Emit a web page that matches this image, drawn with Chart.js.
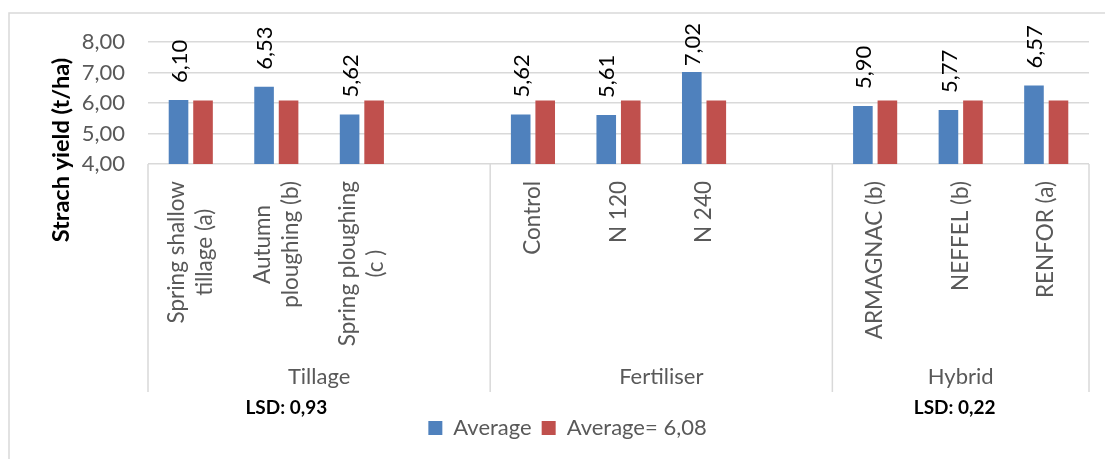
<!DOCTYPE html>
<html>
<head>
<meta charset="utf-8">
<script src="https://cdn.jsdelivr.net/npm/chart.js@4.4.1/dist/chart.umd.min.js"></script>
<style>
  body { margin: 0; background: #fff; }
  canvas { display: block; }
</style>
</head>
<body>
<canvas id="yieldChart" width="1105" height="459"></canvas>
<script>
// Data
const categories = [
    ['Spring shallow', 'tillage (a)'], ['Autumn', 'ploughing (b)'], ['Spring ploughing', '(c )'], '',
    'Control', 'N 120', 'N 240', '',
    'ARMAGNAC (b)', 'NEFFEL (b)', 'RENFOR (a)'
];
const groups = ['Tillage', 'Fertiliser', 'Hybrid'];
const groupSizes = [4, 4, 3];
const averageValues = [6.10, 6.53, 5.62, null, 5.62, 5.61, 7.02, null, 5.90, 5.77, 6.57];
const overallAverage = [6.08, 6.08, 6.08, null, 6.08, 6.08, 6.08, null, 6.08, 6.08, 6.08];
const seriesNames = ['Average', 'Average= 6,08'];
const yTicks = [4, 5, 6, 7, 8];
const yTitle = 'Strach yield (t/ha)';
const lsdNotes = ['LSD: 0,93', 'LSD: 0,22'];

const FONT = 'Lato, "Open Sans", sans-serif';
const GRAY = '#595959';
const LINE = '#D9D9D9';

function fmt(v) {
    return v.toFixed(2).replace('.', ',');
}

// draws the Excel-like extras: border, axis title, value labels, multi-level category axis
const extrasPlugin = {
    id: 'extras',
    beforeDraw(chart) {
        const ctx = chart.ctx;
        ctx.save();
        ctx.strokeStyle = LINE;
        ctx.lineWidth = 1.5;
        ctx.beginPath();
        ctx.moveTo(9, chart.height);
        ctx.lineTo(9, 13);
        ctx.lineTo(chart.width, 13);
        ctx.stroke();
        ctx.restore();
    },
    afterDraw(chart) {
        const ctx = chart.ctx;
        const x = chart.scales.x;
        const area = chart.chartArea;
        const half = (x.getPixelForValue(1) - x.getPixelForValue(0)) / 2;
        const axisBottom = 392;

        ctx.save();

        // y axis title
        ctx.save();
        ctx.translate(61, 150);
        ctx.rotate(-Math.PI / 2);
        ctx.font = 'bold 23.5px ' + FONT;
        ctx.fillStyle = '#000';
        ctx.textAlign = 'center';
        ctx.textBaseline = 'middle';
        ctx.fillText(yTitle, 0, 0);
        ctx.restore();

        // value labels on the blue bars
        ctx.font = '22px ' + FONT;
        ctx.fillStyle = '#000';
        chart.getDatasetMeta(0).data.forEach((bar, i) => {
            const v = averageValues[i];
            if (v == null) return;
            const txt = fmt(v);
            const w = ctx.measureText(txt).width;
            let bottom = bar.y - 17;
            if (bottom - w < 23) bottom = 23 + w;
            ctx.save();
            ctx.translate(bar.x + 1, bottom);
            ctx.rotate(-Math.PI / 2);
            ctx.textAlign = 'left';
            ctx.textBaseline = 'middle';
            ctx.fillText(txt, 0, 0);
            ctx.restore();
        });

        // group separators
        ctx.strokeStyle = LINE;
        ctx.lineWidth = 1.5;
        let idx = 0;
        const bounds = [x.getPixelForValue(0) - half];
        groupSizes.forEach(n => {
            idx += n;
            bounds.push(x.getPixelForValue(idx - 1) + half);
        });
        bounds.forEach(bx => {
            ctx.beginPath();
            ctx.moveTo(bx, area.bottom);
            ctx.lineTo(bx, axisBottom);
            ctx.stroke();
        });

        // category labels
        ctx.fillStyle = GRAY;
        ctx.font = '22.5px ' + FONT;
        categories.forEach((lab, i) => {
            const lines = Array.isArray(lab) ? lab : [lab];
            if (!lines[0]) return;
            const cx = x.getPixelForValue(i);
            const maxW = Math.max(...lines.map(l => ctx.measureText(l).width));
            const cy = area.bottom + 17 + maxW / 2;
            lines.forEach((l, j) => {
                ctx.save();
                ctx.translate(cx + (j - (lines.length - 1) / 2) * 28, cy);
                ctx.rotate(-Math.PI / 2);
                ctx.textAlign = 'center';
                ctx.textBaseline = 'middle';
                ctx.fillText(l, 0, 0);
                ctx.restore();
            });
        });

        // group labels
        ctx.font = '22px ' + FONT;
        ctx.textAlign = 'center';
        ctx.textBaseline = 'middle';
        groups.forEach((g, k) => {
            ctx.fillText(g, (bounds[k] + bounds[k + 1]) / 2, 377);
        });

        // LSD notes
        ctx.font = 'bold 19px ' + FONT;
        ctx.fillStyle = '#000';
        ctx.fillText(lsdNotes[0], x.getPixelForValue(1) + 10, 408);
        ctx.fillText(lsdNotes[1], x.getPixelForValue(9) - 6, 408);

        ctx.restore();
    }
};

const ctx = document.getElementById('yieldChart').getContext('2d');
new Chart(ctx, {
    type: 'bar',
    data: {
        labels: categories,
        datasets: [
            {
                label: seriesNames[0],
                data: averageValues,
                backgroundColor: '#4F81BD',
                borderWidth: 0,
                categoryPercentage: 0.573,
                barPercentage: 0.8
            },
            {
                label: seriesNames[1],
                data: overallAverage,
                backgroundColor: '#C0504D',
                borderWidth: 0,
                categoryPercentage: 0.573,
                barPercentage: 0.8
            }
        ]
    },
    options: {
        responsive: false,
        animation: false,
        layout: {
            padding: { top: 42, left: 46, right: 16, bottom: 10 }
        },
        scales: {
            x: {
                grid: { display: false },
                border: { display: false },
                ticks: { display: false },
                afterFit: s => { s.height = 243; }
            },
            y: {
                min: yTicks[0],
                max: yTicks[yTicks.length - 1],
                afterBuildTicks: s => { s.ticks = yTicks.map(v => ({ value: v })); },
                grid: { color: LINE, lineWidth: 1.5, drawTicks: false },
                border: { display: false },
                ticks: {
                    padding: 23,
                    color: GRAY,
                    font: { family: FONT, size: 22 },
                    callback: v => fmt(v)
                },
                afterFit: s => { s.width = 102; }
            }
        },
        plugins: {
            legend: {
                position: 'bottom',
                labels: {
                    boxWidth: 14,
                    boxHeight: 14,
                    padding: 10,
                    color: GRAY,
                    font: { family: FONT, size: 22 }
                }
            },
            tooltip: { enabled: false }
        }
    },
    plugins: [extrasPlugin]
});
</script>
</body>
</html>
